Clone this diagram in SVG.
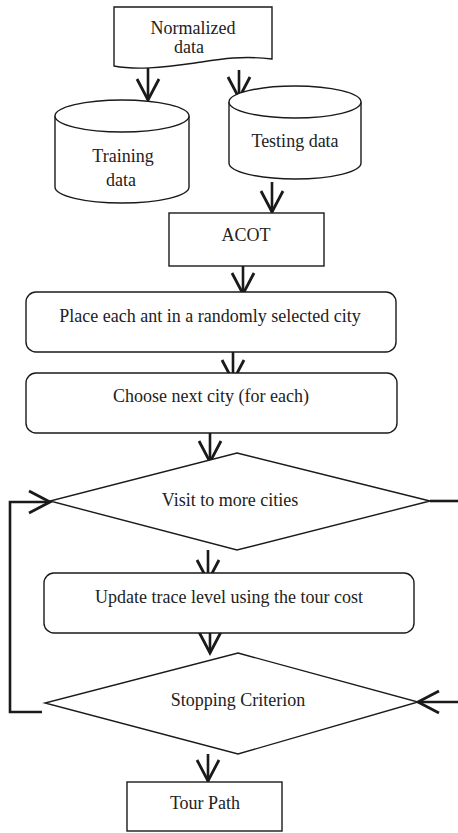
<svg xmlns="http://www.w3.org/2000/svg" width="458" height="833" viewBox="0 0 458 833">
<style>
.shape{fill:#fff;stroke:#1a1a1a;stroke-width:1.4}
.conn{fill:none;stroke:#1a1a1a;stroke-width:2.6}
.t{font-family:'Liberation Serif','Times New Roman','DejaVu Serif',serif;font-size:18px;fill:#222;text-anchor:middle}
</style>
<defs>
<marker id="v" markerUnits="userSpaceOnUse" markerWidth="40" markerHeight="40" refX="0" refY="0" orient="auto" overflow="visible">
<path d="M-21,-11 L0,0 L-21,11" fill="none" stroke="#1a1a1a" stroke-width="2.8"/>
</marker>
</defs>
<rect width="458" height="833" fill="#fff"/>
<g id="connectors">
<line class="conn" x1="148" y1="68" x2="148" y2="100" marker-end="url(#v)"/>
<line class="conn" x1="239" y1="70" x2="239" y2="98" marker-end="url(#v)"/>
<line class="conn" x1="272" y1="182" x2="272" y2="212" marker-end="url(#v)"/>
<line class="conn" x1="243" y1="266" x2="243" y2="294" marker-end="url(#v)"/>
<line class="conn" x1="233" y1="352" x2="233" y2="381" marker-end="url(#v)"/>
<line class="conn" x1="210" y1="433" x2="210" y2="462" marker-end="url(#v)"/>
<line class="conn" x1="208" y1="550" x2="208" y2="581" marker-end="url(#v)"/>
<line class="conn" x1="210" y1="633" x2="210" y2="653" marker-end="url(#v)"/>
<line class="conn" x1="208" y1="754" x2="208" y2="781" marker-end="url(#v)"/>
<polyline class="conn" points="42,712 10,712 10,502 50,502" marker-end="url(#v)"/>
<line class="conn" x1="430" y1="501" x2="458" y2="501"/>
<line class="conn" x1="458" y1="702" x2="418" y2="702" marker-end="url(#v)"/>
</g>
<g font-family="Liberation Serif, serif">
<g id="normalized">
<path class="shape" d="M114,7 H272 V59 C240,55 215,60 195,63 C160,68 135,70 114,66 Z"/>
<text class="t" x="193" y="34" font-size="17">Normalized</text>
<text class="t" x="189" y="53" font-size="17">data</text>
</g>
<g id="training">
<path class="shape" d="M55,116 V187 A67,16 0 0 0 189,187 V116 A67,16 0 0 0 55,116 Z"/>
<path class="shape" fill="none" d="M55,116 A67,16 0 0 0 189,116"/>
<text class="t" x="123" y="162">Training</text>
<text class="t" x="121" y="186">data</text>
</g>
<g id="testing">
<path class="shape" d="M229,102 V163 A66,16 0 0 0 361,163 V102 A66,16 0 0 0 229,102 Z"/>
<path class="shape" fill="none" d="M229,102 A66,16 0 0 0 361,102"/>
<text class="t" x="295" y="147">Testing data</text>
</g>
<g id="acot">
<rect class="shape" x="169" y="213" width="155" height="53"/>
<text class="t" x="246" y="241">ACOT</text>
</g>
<g id="place">
<rect class="shape" x="26" y="292" width="370" height="60" rx="10"/>
<text class="t" x="210" y="322">Place each ant in a randomly selected city</text>
</g>
<g id="choose">
<rect class="shape" x="26" y="373" width="371" height="60" rx="10"/>
<text class="t" x="211" y="402">Choose next city (for each)</text>
</g>
<g id="visit">
<polygon class="shape" points="237,453 430,501 237,550 50,501"/>
<text class="t" x="230" y="506">Visit to more cities</text>
</g>
<g id="update">
<rect class="shape" x="44" y="573" width="370" height="60" rx="10"/>
<text class="t" x="229" y="603">Update trace level using the  tour cost</text>
</g>
<g id="stopping">
<polygon class="shape" points="238,653 418,702 238,754 45,703"/>
<text class="t" x="238" y="706">Stopping Criterion</text>
</g>
<g id="tour">
<rect class="shape" x="127" y="782" width="155" height="49"/>
<text class="t" x="205" y="809">Tour Path</text>
</g>
</g>
</svg>
